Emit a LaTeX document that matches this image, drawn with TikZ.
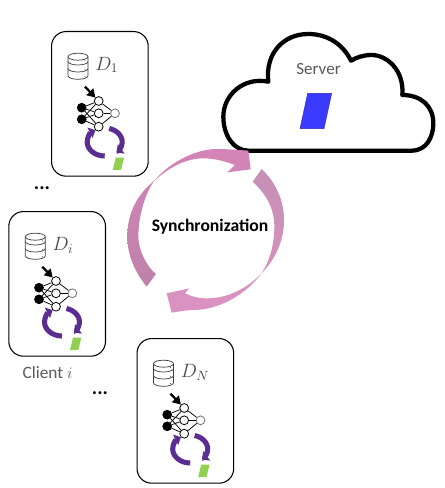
\documentclass[tikz,border=0pt]{standalone}
\usepackage{fontspec}
\setmainfont{Carlito}
\usetikzlibrary{arrows.meta}
\definecolor{lbl}{HTML}{595959}
\definecolor{mathlbl}{HTML}{484848}
\definecolor{purp}{HTML}{5C2D91}
\definecolor{lime}{HTML}{92D050}
\definecolor{blu}{HTML}{3B3BFF}
\definecolor{pinkA}{HTML}{D484B8}
\definecolor{pinkB}{HTML}{BE82AA}
\definecolor{pinkC}{HTML}{C690B5}
\definecolor{pinkD}{HTML}{DB92C2}
\tikzset{
  cardbox/.style={draw=black,line width=.8pt,rounded corners=11pt,fill=white,anchor=north west,minimum width=72.5pt,minimum height=108.5pt,inner sep=0pt},
  neuron/.style={circle,draw=black,fill=white,line width=.6pt,minimum size=6.6pt,inner sep=0pt},
  inneuron/.style={neuron,fill=black},
  outneuron/.style={neuron,draw=black!55},
  netedge/.style={draw=black,line width=.55pt},
  dbline/.style={draw=black!75,line width=.55pt},
  loopline/.style={draw=purp,line width=3.8pt},
  pics/clientcard/.style={code={
    \node[cardbox] (-card) at (0,0) {};
    \draw[dbline,fill=white] (17,-25.7) -- (17,-44.8) arc[start angle=180,end angle=360,x radius=10,y radius=3.5] -- (37,-25.7) arc[start angle=0,end angle=180,x radius=10,y radius=3.5];
    \draw[dbline] (17,-25.7) arc[start angle=180,end angle=360,x radius=10,y radius=3.5];
    \draw[dbline] (17,-30.5) arc[start angle=180,end angle=360,x radius=10,y radius=3.5];
    \draw[dbline] (17,-37.5) arc[start angle=180,end angle=360,x radius=10,y radius=3.5];
    \fill[black!75] (34,-29.7) circle (.5) (34,-38.3) circle (.5) (34,-45.7) circle (.5);
    \node[anchor=west,text=mathlbl,inner sep=0pt,font=\fontsize{14}{16}\selectfont] (-label) at (44,-34) {$#1$};
    \node[inneuron] (-i1) at (30.7,-76.7) {};
    \node[inneuron] (-i2) at (30.7,-88.3) {};
    \node[neuron] (-h1) at (47.7,-70) {};
    \node[neuron] (-h2) at (47.7,-82.3) {};
    \node[neuron] (-h3) at (47.7,-95.7) {};
    \node[outneuron] (-o) at (64,-82.3) {};
    \foreach \a in {i1,i2}{\foreach \b in {h1,h2,h3}{\draw[netedge] (-\a) -- (-\b);}}
    \foreach \b in {h1,h2,h3}{\draw[netedge] (-\b) -- (-o);}
    \coordinate (-feed) at (34,-55.7);
    \draw[black,line width=1.7pt,-{Triangle[length=6pt,width=7pt]}] (-feed) -- (-h1);
    \draw[loopline,-{Triangle[length=4.5pt,width=8.5pt]}] (53.7,-125) arc[start angle=270,end angle=122,x radius=17.5,y radius=14];
    \draw[loopline,-{Triangle[length=4.5pt,width=8.5pt]}] (58.2,-97.5) arc[start angle=75,end angle=-48,x radius=17.5,y radius=14];
    \fill[lime] (64.7,-126.7) -- (73,-126.7) -- (70,-139) -- (61.7,-139) -- cycle;
  }}
}
\begin{document}
\begin{tikzpicture}[x=.75pt,y=.75pt]
\useasboundingbox (0,0) rectangle (444,-488);
\pic (c1) at (51,-31) {clientcard={D_1}};
\pic (ci) at (8.3,-211) {clientcard={D_i}};
\pic (cn) at (136.5,-338) {clientcard={D_N}};
\node[font=\bfseries\fontsize{15}{17}\selectfont] (dots1) at (42,-188) {...};
\node[font=\bfseries\fontsize{15}{17}\selectfont] (dots2) at (100,-393) {...};
\node[text=lbl,font=\fontsize{13}{15}\selectfont] (clientlabel) at (47.5,-373) {Client $i$};
% cloud
\begin{scope}[shift={(215,-20)},x=.25pt,y=.25pt]
\draw[black,line width=3.2pt,fill=white,line join=round]
 (100,-392) -- (590,-392) .. controls (635,-392) and (655,-350) .. (655,-310)
 .. controls (655,-260) and (620,-225) .. (562,-225)
 .. controls (568,-150) and (515,-105) .. (470,-105) .. controls (445,-105) and (425,-112) .. (408,-122)
 .. controls (385,-75) and (340,-42) .. (280,-42) .. controls (205,-42) and (150,-100) .. (160,-185)
 .. controls (85,-170) and (25,-225) .. (25,-290) .. controls (25,-345) and (55,-392) .. (100,-392) -- cycle;
\fill[blu,draw=blu!70!black,line width=.3pt] (278,-220) -- (350,-220) -- (327,-326) -- (255,-326) -- cycle;
\end{scope}
\node[text=lbl,font=\fontsize{12.8}{15}\selectfont] (server) at (318.5,-69.5) {Server};
% sync arrows
\begin{scope}[shift={(120,-130)},x=.25pt,y=.25pt]
\path[top color=pinkA,bottom color=pinkB,draw=none]
 (80,-470) .. controls (40,-420) and (22,-370) .. (22,-320) .. controls (22,-250) and (50,-195) .. (103,-152)
 .. controls (150,-95) and (230,-57) .. (290,-57) .. controls (320,-57) and (355,-60) .. (385,-62)
 -- (392,-118) -- (322,-127) -- (345,-105) .. controls (310,-92) and (280,-85) .. (250,-85)
 .. controls (200,-85) and (150,-110) .. (103,-152) .. controls (75,-190) and (55,-260) .. (55,-320)
 .. controls (55,-360) and (80,-410) .. (108,-432) -- cycle;
\path[top color=pinkC,bottom color=pinkD,draw=none]
 (425,-117) .. controls (470,-160) and (492,-215) .. (492,-270) .. controls (492,-340) and (460,-395) .. (422,-433)
 .. controls (380,-490) and (300,-540) .. (220,-540) .. controls (200,-540) and (175,-545) .. (155,-548)
 -- (140,-490) -- (208,-475) -- (195,-490) .. controls (215,-500) and (235,-505) .. (260,-505)
 .. controls (330,-505) and (385,-470) .. (422,-433) .. controls (450,-395) and (463,-340) .. (463,-290)
 .. controls (463,-230) and (435,-190) .. (398,-155) -- cycle;
\end{scope}
\node[font=\bfseries\fontsize{13.2}{15}\selectfont] (sync) at (210,-227) {Synchronization};
\end{tikzpicture}
\end{document}
